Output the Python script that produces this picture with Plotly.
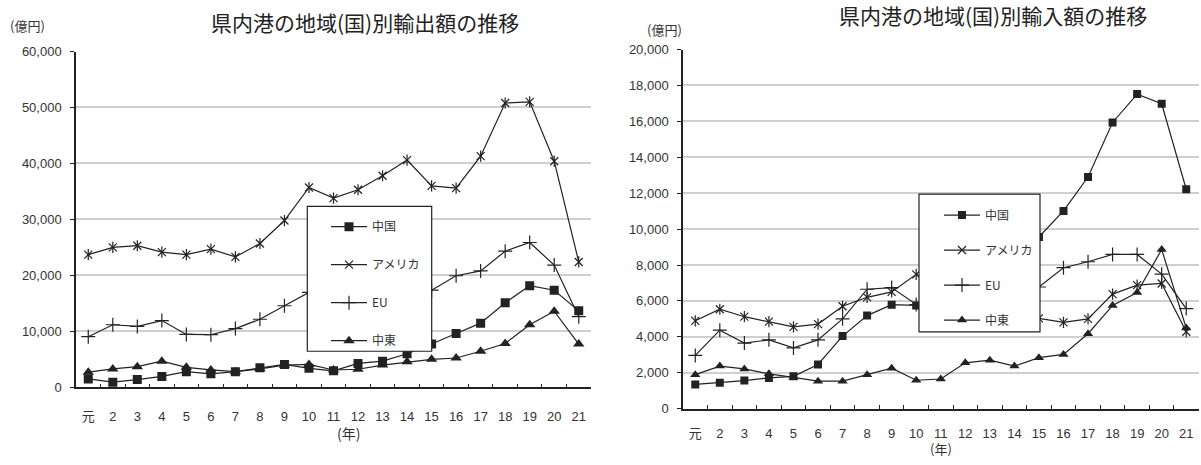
import plotly.graph_objects as go

years = ["元"] + [str(i) for i in range(2, 22)]

exp_china = [1500, 920, 1380, 1950, 2800, 2420, 2800, 3500, 4100, 3400, 2950, 4270, 4670, 6000, 7730, 9630, 11470, 15100, 18150, 17350, 13660]
exp_us = [23700, 25000, 25300, 24150, 23700, 24700, 23300, 25700, 29800, 35700, 33800, 35300, 37800, 40600, 36000, 35600, 41300, 50800, 51000, 40400, 22400]
exp_eu = [9050, 11180, 10890, 11930, 9450, 9400, 10490, 12160, 14580, 16950, 16200, 16000, 16500, 17000, 17350, 19940, 20800, 24320, 25880, 21840, 12620]
exp_me = [2700, 3280, 3690, 4670, 3570, 3110, 2800, 3300, 3950, 4100, 3100, 3230, 3980, 4560, 5010, 5240, 6450, 7830, 11180, 13600, 7730]

imp_china = [1350, 1440, 1560, 1710, 1800, 2460, 4040, 5180, 5790, 5750, 6300, 7400, 8300, 8800, 9560, 11010, 12900, 15940, 17520, 16980, 12220]
imp_us = [4890, 5535, 5120, 4850, 4550, 4710, 5700, 6200, 6500, 7480, 6900, 6300, 5900, 5500, 5030, 4800, 5000, 6380, 6880, 6970, 4280]
imp_eu = [2965, 4370, 3650, 3830, 3380, 3830, 5000, 6650, 6740, 5800, 6000, 6200, 6400, 6500, 6775, 7850, 8180, 8590, 8590, 7490, 5570]
imp_me = [1890, 2370, 2210, 1940, 1740, 1530, 1530, 1890, 2250, 1580, 1650, 2550, 2700, 2370, 2840, 3020, 4170, 5750, 6470, 8860, 4490]

names = ["中国", "アメリカ", "EU", "中東"]
title_exp = "県内港の地域(国)別輸出額の推移"
title_imp = "県内港の地域(国)別輸入額の推移"
unit_label = "(億円)"
year_label = "(年)"

W, H = 1201, 465
FONT = "Liberation Sans, Arial, Noto Sans CJK JP, sans-serif"
CJK = "Noto Sans CJK JP, sans-serif"
LINE = "#222222"
TXT = "#333333"

def px(x):
    return x / W

def py(y):
    return 1 - y / H

fig = go.Figure()

def add_series(data, xa, ya, leg, sq, tri, xs):
    specs = [
        (data[0], names[0], dict(symbol="square", size=sq, color=LINE)),
        (data[1], names[1], dict(symbol="x-thin-open", size=xs, color=LINE, line=dict(width=1.2, color=LINE))),
        (data[2], names[2], dict(symbol="cross-thin-open", size=xs + 2, color=LINE, line=dict(width=1.2, color=LINE))),
        (data[3], names[3], dict(symbol="triangle-up", size=tri, color=LINE)),
    ]
    for i, (vals, nm, mk) in enumerate(specs):
        fig.add_trace(go.Scatter(
            x=years, y=vals, name=nm, mode="lines+markers",
            line=dict(color=LINE, width=1.2), marker=mk,
            xaxis=xa, yaxis=ya, legend=leg, legendgroup=leg + str(i),
        ))
        if i == 1:
            fig.add_trace(go.Scatter(
                x=years, y=vals, mode="markers", showlegend=False,
                marker=dict(symbol="line-ns-open", size=xs, color=LINE, line=dict(width=1.2, color=LINE)),
                xaxis=xa, yaxis=ya, legend=leg, legendgroup=leg + str(i), hoverinfo="skip",
            ))

add_series([exp_china, exp_us, exp_eu, exp_me], "x", "y", "legend", 9, 10, 8)
add_series([imp_china, imp_us, imp_eu, imp_me], "x2", "y2", "legend2", 8, 9, 8)

xcommon = dict(type="category", categoryorder="array", categoryarray=years,
               range=[-0.5, 20.5], showline=True, linecolor=LINE, linewidth=1.5,
               ticks="inside", tickson="boundaries", ticklen=4, tickcolor=LINE,
               showgrid=False, zeroline=False,
               tickfont=dict(family=FONT, size=13, color=TXT))
ycommon = dict(showline=True, linecolor=LINE, linewidth=1.5, ticks="outside",
               ticklen=4, tickcolor=LINE, showgrid=True, gridcolor="#cfcfcf",
               gridwidth=1.5, zeroline=False, tickformat=",",
               tickfont=dict(family=FONT, size=13, color=TXT), ticklabelstandoff=6)

legcommon = dict(xanchor="left", yanchor="top", bgcolor="rgba(0,0,0,0)",
                 borderwidth=0, traceorder="grouped", itemwidth=36,
                 font=dict(family=CJK, size=12, color=TXT))

fig.update_layout(
    width=W, height=H, margin=dict(l=0, r=0, t=0, b=0),
    paper_bgcolor="white", plot_bgcolor="white",
    xaxis=dict(xcommon, domain=[px(76), px(591)], anchor="y", ticklabelstandoff=16),
    yaxis=dict(ycommon, domain=[py(393), py(46)], anchor="x", range=[0, 60000], dtick=10000),
    xaxis2=dict(xcommon, domain=[px(683), px(1198.5)], anchor="y2", ticklabelstandoff=12),
    yaxis2=dict(ycommon, domain=[py(415), py(44)], anchor="x2", range=[0, 20000], dtick=2000),
    legend=dict(legcommon, x=px(326), y=py(212), tracegroupgap=19),
    legend2=dict(legcommon, x=px(939), y=py(200), tracegroupgap=16),
    showlegend=True,
    shapes=[
        dict(type="rect", xref="paper", yref="paper", layer="above",
             x0=px(307.3), x1=px(431.7), y0=py(355.7), y1=py(206),
             fillcolor="white", line=dict(color=LINE, width=1.2)),
        dict(type="rect", xref="paper", yref="paper", layer="above",
             x0=px(919), x1=px(1040), y0=py(335.7), y1=py(193.3),
             fillcolor="white", line=dict(color=LINE, width=1.2)),
    ],
    annotations=[
        dict(text=title_exp, x=px(209), y=py(15), xref="paper", yref="paper",
             showarrow=False, xanchor="left", yanchor="middle",
             font=dict(family=CJK, size=21, color="#222")),
        dict(text=title_imp, x=px(837), y=py(8), xref="paper", yref="paper",
             showarrow=False, xanchor="left", yanchor="middle",
             font=dict(family=CJK, size=21, color="#222")),
        dict(text=unit_label, x=px(27), y=py(19), xref="paper", yref="paper",
             showarrow=False, xanchor="center", yanchor="middle",
             font=dict(family=CJK, size=13, color=TXT)),
        dict(text=unit_label, x=px(664), y=py(23), xref="paper", yref="paper",
             showarrow=False, xanchor="center", yanchor="middle",
             font=dict(family=CJK, size=13, color=TXT)),
        dict(text=year_label, x=px(348), y=py(440), xref="paper", yref="paper",
             showarrow=False, xanchor="center", yanchor="middle",
             font=dict(family=CJK, size=14, color=TXT)),
        dict(text=year_label, x=px(941), y=py(456), xref="paper", yref="paper",
             showarrow=False, xanchor="center", yanchor="middle",
             font=dict(family=CJK, size=13, color=TXT)),
    ],
)

fig.write_html("out.html")
